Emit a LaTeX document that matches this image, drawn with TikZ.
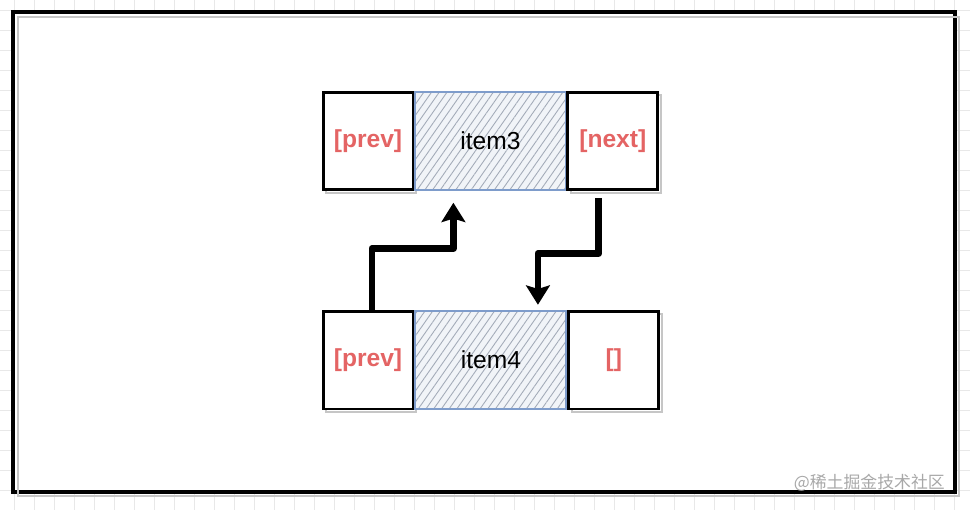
\documentclass[tikz,border=0pt]{standalone}
\usepackage{fontspec}
\setmainfont{Liberation Sans}
\newfontfamily\cjkfont{Noto Sans CJK SC}
\usetikzlibrary{positioning,calc,arrows.meta,patterns.meta}
\definecolor{labelred}{HTML}{E46464}
\definecolor{itemblue}{HTML}{7E9CCB}
\definecolor{itemfill}{HTML}{F1F4F8}
\definecolor{hatchgray}{HTML}{A3ABB8}
\definecolor{gridgray}{HTML}{E8E8E8}
\begin{document}
\begin{tikzpicture}[x=0.02cm, y=-0.02cm,
  every node/.style={font=\fontsize{14}{16}\selectfont},
  gridline/.style={gridgray, line width=0.4pt},
  slot/.style={draw=black, line width=1.7pt, fill=white, inner sep=0pt,
    minimum width=1.8cm, minimum height=1.96cm, text=labelred,
    font=\fontsize{14}{16}\selectfont\bfseries,
    preaction={draw=gray!45, line width=1.1pt, transform canvas={xshift=1.8pt,yshift=-1.6pt}}},
  item/.style={draw=itemblue, line width=1.1pt, inner sep=0pt,
    minimum width=3.02cm, minimum height=1.96cm,
    preaction={fill=itemfill},
    pattern={Lines[angle=55,distance=3.6pt,line width=0.5pt]}, pattern color=hatchgray},
  link/.style={line width=3.9pt, line join=round,
    -{Stealth[length=11pt,width=13.5pt,inset=2pt]}}]
\useasboundingbox (0,0) rectangle (970,510);
% background grid
\foreach \gx in {14,34,...,954} \draw[gridline] (\gx,0) -- (\gx,510);
\foreach \gy in {10,30,...,510} \draw[gridline] (0,\gy) -- (970,\gy);
% frame
\draw[fill=white, line width=1.8pt] (13,12) rectangle (955,492);
\draw[gray!45, line width=1.1pt] (18,17) rectangle (959,496);
% top row
\node[slot] (prev3) at (368,141) {[prev]};
\node[item, right=0pt of prev3] (item3) {item3};
\node[slot, right=0pt of item3] (next3) {[next]};
% bottom row
\node[slot] (prev4) at (368,360) {[prev]};
\node[item, right=0pt of prev4] (item4) {item4};
\node[slot, right=0pt of item4] (next4) {[]};
% links
\draw[link, shorten >=7pt] ($(prev4.north)+(4,0)$) -- ++(0,-61) -| ($(item3.south)+(-37,0)$);
\draw[link, shorten >=3pt] ($(next3.south)+(-14,7)$) -- ++(0,55) -| ($(item4.north)+(47,0)$);
% watermark
\node[font=\cjkfont\fontsize{9.6}{11}\selectfont, text=gray!75, opacity=0.9, anchor=east] (mark) at (951,483) {@稀土掘金技术社区};
\end{tikzpicture}
\end{document}
